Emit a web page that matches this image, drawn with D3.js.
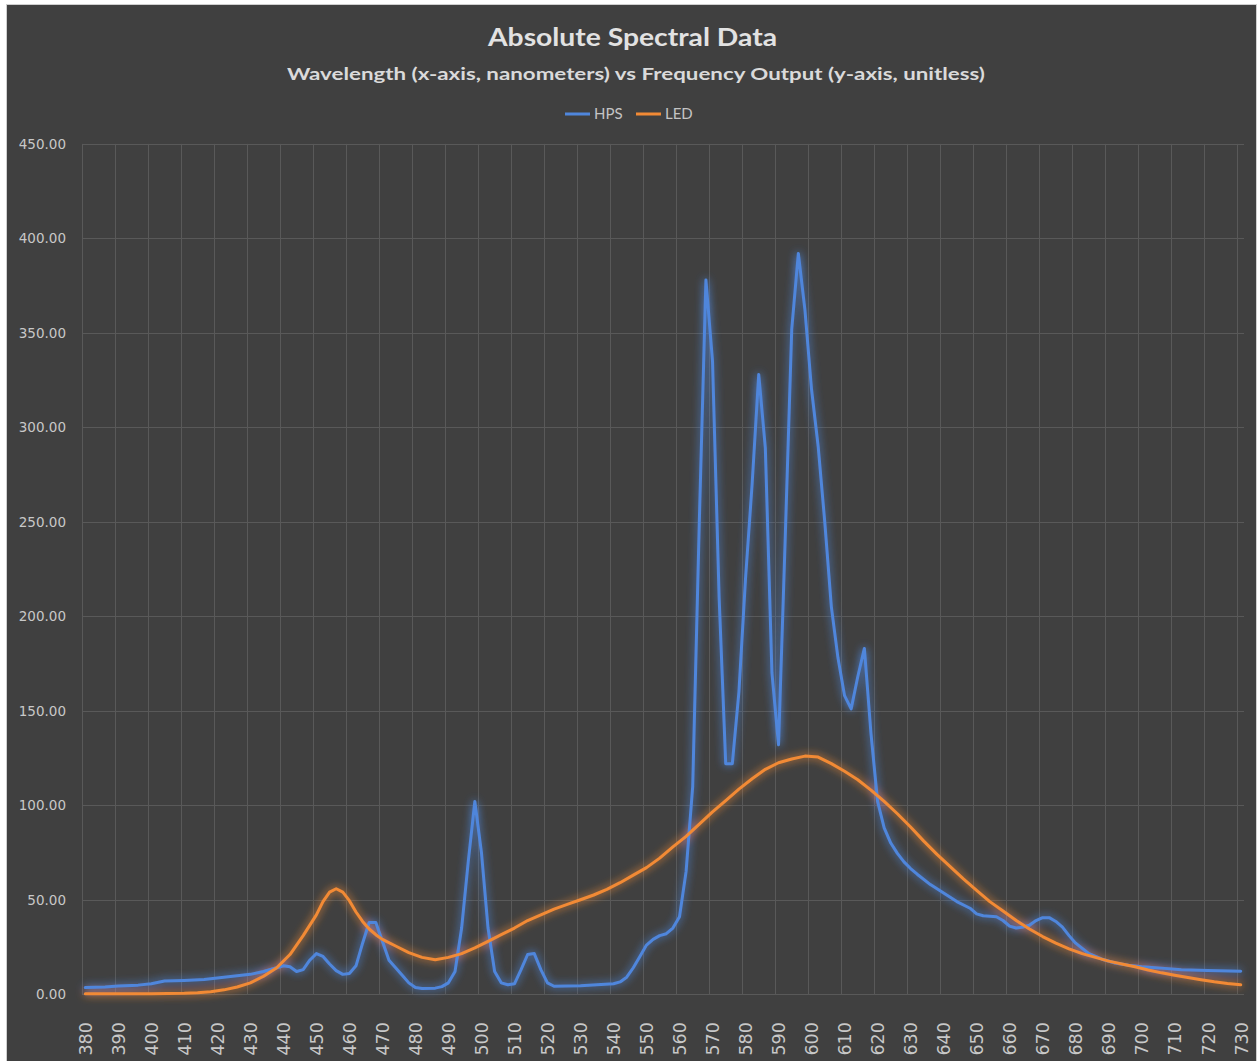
<!DOCTYPE html>
<html>
<head>
<meta charset="utf-8">
<script src="https://cdn.jsdelivr.net/npm/d3@7"></script>
<style>
  html, body { margin: 0; padding: 0; background: #ffffff; }
  svg { display: block; }
</style>
</head>
<body>
<svg id="chart" width="1259" height="1061"></svg>
<script>
// Wavelength samples (nm) and output for the high-pressure sodium lamp
const hpsNm = [380,386,390,396,400,404,410,416,420,426,430,434,438,440,442,444,446,448,450,452,454,456,458,460,462,464,466,468,470,472,474,476,478,480,482,486,488,490,492,494,496,498,500,502,504,506,508,510,512,514,516,518,520,522,530,540,542,544,546,548,550,552,554,556,558,560,562,564,566,568,570,572,574,576,578,580,582,584,586,588,590,592,594,596,598,600,602,604,606,608,610,612,614,616,618,620,622,624,626,628,630,632,636,640,644,648,650,652,656,658,660,662,664,666,668,670,672,674,676,678,680,684,688,692,696,700,706,712,720,730];
const hpsValues = [3.5,3.8,4.3,4.8,5.5,7,7.3,7.8,8.6,9.8,10.5,12,14,15,14.5,12,13,18,21.5,20,16,12.5,10.5,11,15,27,38,38,28,18,14,10,6,3.5,3,3.2,4,6,12,35,70,102,75,35,12,6,5,5.5,13,21,21.5,13,6,4.2,4.5,5.5,6.5,9,14,20,26,29,31,32,35,41,65,110,250,378,335,210,122,122,160,220,270,328,289,170,132,240,352,392,362,320,290,250,205,178,158,151,168,183,138,102,88,80,74.5,70,66.5,63.5,58,53.5,49,45.5,42.5,41.5,41,39,36,35,35.5,36.5,39,40.5,40.5,38.5,35.5,31,27,21.5,18.5,16.5,15.3,14.5,13.8,13,12.5,12.2];

// Wavelength samples (nm) and output for the LED fixture
const ledNm = [380,390,400,410,414,418,422,426,430,434,438,442,446,450,452,454,456,458,460,462,464,466,468,470,474,478,482,486,490,494,498,502,506,510,514,518,522,526,530,534,538,542,546,550,554,558,562,566,570,574,578,582,586,590,594,598,602,606,610,614,618,622,626,630,634,638,642,646,650,654,658,662,666,670,674,678,682,686,690,694,698,702,706,710,714,718,722,726,730];
const ledValues = [0.3,0.3,0.3,0.5,0.8,1.3,2.3,3.8,6,9.5,14,21,31,42,49,54,55.8,54,49.5,43.5,38.5,34.5,31.5,29,25.5,22,19.5,18.2,19.5,21.5,24.5,28,31.5,35,39,42,45,47.5,50,52.5,55.5,59,63,67,72,78,83.5,90,96.5,102.5,108.5,114,119,122.5,124.5,126,125.5,122,118,113.5,108,102,95.5,88.5,81,74,67.5,61,55,49,44,39,34.5,30.5,27,24,21.5,19.5,17.5,16,14.5,12.8,11.3,10,8.8,7.7,6.6,5.7,5];

// Axis labels
const xTickLabels = d3.range(380, 731, 10);
const yTickValues = [0, 50, 100, 150, 200, 250, 300, 350, 400, 450];

const seriesNames = ["HPS", "LED"];
const seriesColors = ["#4f86dc", "#f28a35"];

const titleText = "Absolute Spectral Data";
const subtitleText = "Wavelength (x-axis, nanometers) vs Frequency Output (y-axis, unitless)";

const svg = d3.select("#chart");

// chart panel
svg.append("rect")
  .attr("x", 6.5).attr("y", 4.5)
  .attr("width", 1250).attr("height", 1070)
  .attr("fill", "#404040")
  .attr("stroke", "#cfcfcf").attr("stroke-width", 1);

const plot = { left: 82, right: 1244, top: 143.9, bottom: 994.2 };

// categories sit half a step (1 nm) inside the gridline boundaries
const x = d3.scaleLinear().domain([379, 731]).range([plot.left, plot.right]);
const y = d3.scaleLinear().domain([0, 450]).range([plot.bottom, plot.top]);

// glow filter for the series lines
const defs = svg.append("defs");
const glow = defs.append("filter").attr("id", "glow")
  .attr("x", "-10%").attr("y", "-10%").attr("width", "120%").attr("height", "120%");
glow.append("feGaussianBlur").attr("in", "SourceGraphic").attr("stdDeviation", 4).attr("result", "blur");
glow.append("feComponentTransfer").attr("in", "blur").attr("result", "soft")
  .append("feFuncA").attr("type", "linear").attr("slope", 1.1);
const merge = glow.append("feMerge");
merge.append("feMergeNode").attr("in", "soft");
merge.append("feMergeNode").attr("in", "SourceGraphic");

// gridlines
const grid = svg.append("g").attr("stroke", "#595959").attr("stroke-width", 1);
grid.selectAll("line.h").data(yTickValues).join("line")
  .attr("class", "h")
  .attr("x1", plot.left).attr("x2", plot.right)
  .attr("y1", d => Math.round(y(d)) + 0.5).attr("y2", d => Math.round(y(d)) + 0.5);
grid.selectAll("line.v").data(d3.range(379, 730, 10)).join("line")
  .attr("class", "v")
  .attr("y1", plot.top).attr("y2", plot.bottom)
  .attr("x1", d => Math.round(x(d)) + 0.5).attr("x2", d => Math.round(x(d)) + 0.5);

// y axis
const yAxis = svg.append("g")
  .attr("transform", `translate(${plot.left - 16},0)`)
  .call(d3.axisLeft(y).tickValues(yTickValues).tickFormat(d3.format(".2f")).tickSize(0).tickPadding(0));
yAxis.select(".domain").remove();
yAxis.selectAll("text")
  .attr("fill", "#c8c8c8")
  .style("font-family", "'DejaVu Sans', sans-serif")
  .style("font-size", "13.5px");

// x axis
const xAxis = svg.append("g")
  .attr("transform", `translate(0,${plot.bottom})`)
  .call(d3.axisBottom(x).tickValues(xTickLabels).tickFormat(d3.format("d")).tickSize(0).tickPadding(0));
xAxis.select(".domain").remove();
xAxis.selectAll("text")
  .attr("fill", "#c8c8c8")
  .style("font-family", "'DejaVu Sans', sans-serif")
  .style("font-size", "17.5px")
  .attr("text-anchor", "end")
  .attr("transform", "rotate(-90)")
  .attr("x", -28)
  .attr("y", 0)
  .attr("dy", "0.36em");

// series lines
const line = d3.line().x(d => x(d[0])).y(d => y(d[1]));
const series = [
  d3.zip(hpsNm, hpsValues),
  d3.zip(ledNm, ledValues)
];
svg.append("g").attr("filter", "url(#glow)")
  .selectAll("path").data(series).join("path")
  .attr("d", line)
  .attr("fill", "none")
  .attr("stroke", (d, i) => seriesColors[i])
  .attr("stroke-width", 3)
  .attr("stroke-linejoin", "round")
  .attr("stroke-linecap", "round");

// titles
svg.append("text")
  .attr("x", 632.5).attr("y", 46)
  .attr("text-anchor", "middle")
  .attr("fill", "#e2e2e2")
  .style("font-family", "Lato, 'Open Sans', sans-serif")
  .style("font-weight", "bold")
  .style("font-size", "25px")
  .attr("textLength", 289).attr("lengthAdjust", "spacingAndGlyphs")
  .text(titleText);
svg.append("text")
  .attr("x", 636).attr("y", 80)
  .attr("text-anchor", "middle")
  .attr("fill", "#dadada")
  .style("font-family", "Lato, 'Open Sans', sans-serif")
  .style("font-weight", "bold")
  .style("font-size", "17.5px")
  .attr("textLength", 698).attr("lengthAdjust", "spacingAndGlyphs")
  .text(subtitleText);

// legend
const legendX = [565, 636];
const legend = svg.append("g");
seriesNames.forEach((name, i) => {
  legend.append("line")
    .attr("x1", legendX[i]).attr("x2", legendX[i] + 25)
    .attr("y1", 114).attr("y2", 114)
    .attr("stroke", seriesColors[i]).attr("stroke-width", 3);
  legend.append("text")
    .attr("x", legendX[i] + 29).attr("y", 114)
    .attr("dy", "0.35em")
    .attr("fill", "#c4c4c4")
    .style("font-family", "Lato, 'Open Sans', sans-serif")
    .style("font-size", "15px")
    .text(name);
});
</script>
</body>
</html>
